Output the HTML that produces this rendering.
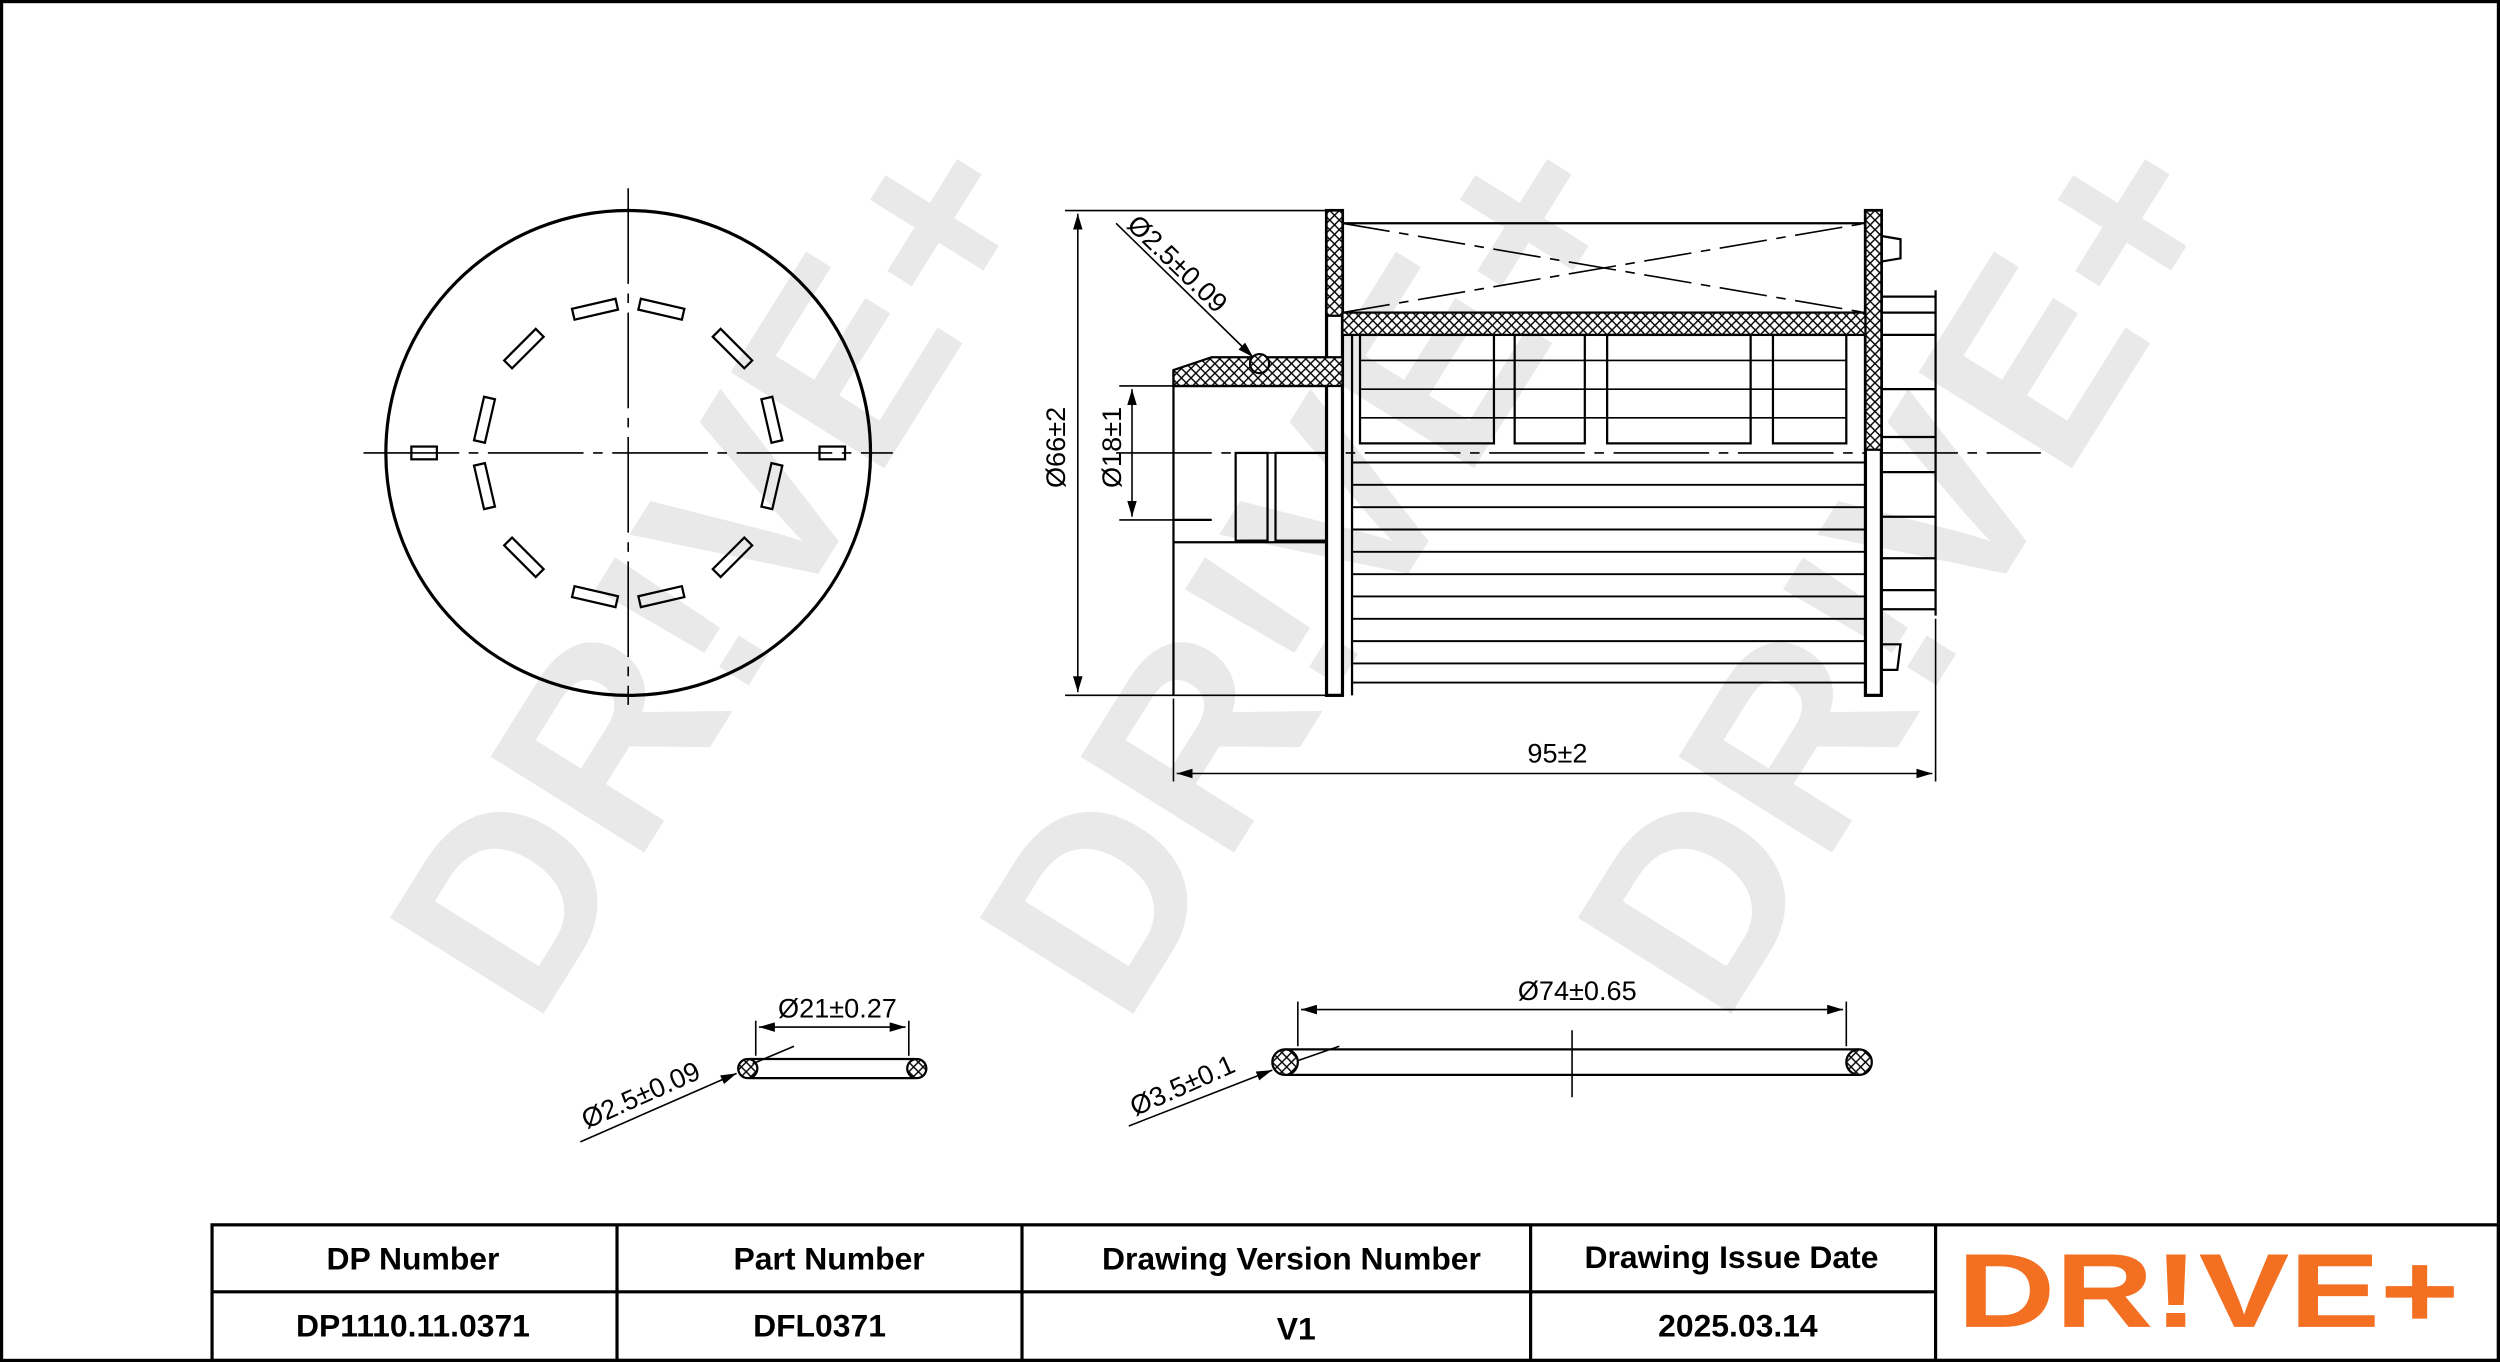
<!DOCTYPE html>
<html><head><meta charset="utf-8"><style>
html,body{margin:0;padding:0;background:#fff}
svg{display:block}
</style></head><body>
<svg width="2500" height="1362" viewBox="0 0 1568 854" preserveAspectRatio="none" xmlns="http://www.w3.org/2000/svg" font-family="Liberation Sans, sans-serif">
<defs>
<pattern id="h" width="6" height="6" patternUnits="userSpaceOnUse">
<rect width="6" height="6" fill="#fff"/>
<path d="M0 0L6 6M6 0L0 6" stroke="#000" stroke-width="0.9"/>
</pattern>
<marker id="a" markerWidth="10" markerHeight="6" refX="10" refY="3" orient="auto-start-reverse" markerUnits="userSpaceOnUse"><path d="M0 0L10 3L0 6Z" fill="#000"/></marker>
</defs>
<rect x="0" y="0" width="1568" height="854" fill="#fff"/>
<g fill="#e9e9e9" font-weight="bold" font-size="165">
<text transform="translate(335,645) rotate(-58)">DR!VE+</text>
<text transform="translate(705,645) rotate(-58)">DR!VE+</text>
<text transform="translate(1080,645) rotate(-58)">DR!VE+</text>
</g>
<rect x="1" y="1" width="1566" height="852" fill="none" stroke="#000" stroke-width="2"/>
<g stroke="#000" fill="none" stroke-width="1.4">
<circle cx="394" cy="284" r="152" stroke-width="2"/>
<line x1="228" y1="284" x2="560" y2="284" stroke-width="1" stroke-dasharray="60,6,6,6"/>
<line x1="394" y1="118" x2="394" y2="442" stroke-width="1" stroke-dasharray="60,6,6,6"/>
<rect x="258" y="280" width="16" height="8"/>
<rect x="514" y="280" width="16" height="8"/>
<g transform="translate(394,284)">
<rect x="-14" y="-96" width="28" height="7" transform="rotate(-13)"/>
<rect x="-14" y="-96" width="28" height="7" transform="rotate(13)"/>
<rect x="-14" y="-96" width="28" height="7" transform="rotate(45)"/>
<rect x="-14" y="-96" width="28" height="7" transform="rotate(77)"/>
<rect x="-14" y="-96" width="28" height="7" transform="rotate(103)"/>
<rect x="-14" y="-96" width="28" height="7" transform="rotate(135)"/>
<rect x="-14" y="-96" width="28" height="7" transform="rotate(167)"/>
<rect x="-14" y="-96" width="28" height="7" transform="rotate(193)"/>
<rect x="-14" y="-96" width="28" height="7" transform="rotate(225)"/>
<rect x="-14" y="-96" width="28" height="7" transform="rotate(257)"/>
<rect x="-14" y="-96" width="28" height="7" transform="rotate(283)"/>
<rect x="-14" y="-96" width="28" height="7" transform="rotate(315)"/>
</g>
</g>
<g stroke="#000" fill="none" stroke-width="1.4">
<line x1="700" y1="284" x2="1280" y2="284" stroke-width="1" stroke-dasharray="60,6,6,6"/>
<rect x="832" y="132" width="10" height="304" fill="#fff" stroke-width="2"/>
<rect x="832" y="132" width="10" height="66" fill="url(#h)"/>
<rect x="1170" y="132" width="10" height="304" fill="#fff" stroke-width="2"/>
<rect x="1170" y="132" width="10" height="150" fill="url(#h)"/>
<line x1="842" y1="140" x2="1170" y2="140"/>
<line x1="842" y1="196" x2="1170" y2="196"/>
<line x1="842" y1="140" x2="1170" y2="196" stroke-width="1" stroke-dasharray="30,6,6,6"/>
<line x1="842" y1="196" x2="1170" y2="140" stroke-width="1" stroke-dasharray="30,6,6,6"/>
<rect x="842" y="196" width="328" height="14" fill="url(#h)"/>
<path d="M736 232 L760 224 L832 224 L842 224 L842 242 L736 242 Z" fill="url(#h)"/>
<circle cx="790" cy="228" r="6" fill="url(#h)"/>
<line x1="736" y1="232" x2="736" y2="436"/>
<line x1="736" y1="242" x2="832" y2="242"/>
<line x1="736" y1="326" x2="760" y2="326"/>
<rect x="775" y="284" width="20" height="55"/>
<rect x="800" y="284" width="32" height="55"/>
<line x1="736" y1="340" x2="832" y2="340"/>
<rect x="853" y="210" width="84" height="68"/>
<rect x="950" y="210" width="44" height="68"/>
<rect x="1008" y="210" width="90" height="68"/>
<rect x="1112" y="210" width="46" height="68"/>
<line x1="853" y1="226" x2="1158" y2="226" stroke-width="1"/>
<line x1="853" y1="244" x2="1158" y2="244" stroke-width="1"/>
<line x1="853" y1="262" x2="1158" y2="262" stroke-width="1"/>
<line x1="848" y1="210" x2="848" y2="436"/>
<g stroke-width="1.2">
<line x1="848" y1="290" x2="1170" y2="290"/>
<line x1="848" y1="304" x2="1170" y2="304"/>
<line x1="848" y1="318" x2="1170" y2="318"/>
<line x1="848" y1="332" x2="1170" y2="332"/>
<line x1="848" y1="346" x2="1170" y2="346"/>
<line x1="848" y1="360" x2="1170" y2="360"/>
<line x1="848" y1="374" x2="1170" y2="374"/>
<line x1="848" y1="388" x2="1170" y2="388"/>
<line x1="848" y1="402" x2="1170" y2="402"/>
<line x1="848" y1="416" x2="1170" y2="416"/>
<line x1="848" y1="428" x2="1170" y2="428"/>
</g>
<path d="M1180 148 L1192 150 L1192 162 L1180 164"/>
<line x1="1180" y1="186" x2="1214" y2="186"/>
<line x1="1180" y1="196" x2="1214" y2="196"/>
<line x1="1180" y1="210" x2="1214" y2="210"/>
<line x1="1180" y1="244" x2="1214" y2="244"/>
<line x1="1180" y1="274" x2="1214" y2="274"/>
<line x1="1214" y1="182" x2="1214" y2="386"/>
<line x1="1180" y1="296" x2="1214" y2="296"/>
<line x1="1180" y1="324" x2="1214" y2="324"/>
<line x1="1180" y1="350" x2="1214" y2="350"/>
<line x1="1180" y1="370" x2="1214" y2="370"/>
<line x1="1180" y1="382" x2="1214" y2="382"/>
<path d="M1180 404 L1192 404 L1190 420 L1180 420"/>
</g>
<g stroke="#000" stroke-width="1" fill="none">
<line x1="668" y1="132" x2="832" y2="132"/>
<line x1="668" y1="436" x2="832" y2="436"/>
<line x1="676" y1="134" x2="676" y2="434" marker-start="url(#a)" marker-end="url(#a)"/>
<line x1="702" y1="242" x2="736" y2="242"/>
<line x1="702" y1="326" x2="736" y2="326"/>
<line x1="710" y1="244" x2="710" y2="324" marker-start="url(#a)" marker-end="url(#a)"/>
<line x1="700" y1="140" x2="786" y2="224" marker-end="url(#a)"/>
<line x1="736" y1="438" x2="736" y2="490"/>
<line x1="1214" y1="388" x2="1214" y2="490"/>
<line x1="738" y1="485" x2="1212" y2="485" marker-start="url(#a)" marker-end="url(#a)"/>
</g>
<g font-size="17" fill="#000">
<text transform="translate(668,306) rotate(-90)">Ø66±2</text>
<text transform="translate(703,306) rotate(-90)">Ø18±1</text>
<text transform="translate(706,142) rotate(44)">Ø2.5±0.09</text>
<text x="958" y="478">95±2</text>
<text x="488" y="638">Ø21±0.27</text>
<text transform="translate(368,708) rotate(-24)">Ø2.5±0.09</text>
<text x="952" y="627">Ø74±0.65</text>
<text transform="translate(712,700) rotate(-24)">Ø3.5±0.1</text>
</g>
<g stroke="#000" stroke-width="1.4" fill="none">
<line x1="470" y1="664" x2="574" y2="664"/>
<line x1="470" y1="676" x2="574" y2="676"/>
<circle cx="469" cy="670" r="6" fill="url(#h)"/>
<circle cx="575" cy="670" r="6" fill="url(#h)"/>
<line x1="474" y1="640" x2="474" y2="662" stroke-width="1"/>
<line x1="570" y1="640" x2="570" y2="662" stroke-width="1"/>
<line x1="476" y1="644" x2="568" y2="644" stroke-width="1" marker-start="url(#a)" marker-end="url(#a)"/>
<line x1="364" y1="716" x2="462" y2="673" stroke-width="1" marker-end="url(#a)"/>
<line x1="498" y1="656" x2="472" y2="667" stroke-width="1"/>
<line x1="806" y1="658" x2="1166" y2="658"/>
<line x1="806" y1="674" x2="1166" y2="674"/>
<circle cx="806" cy="666" r="8" fill="url(#h)"/>
<circle cx="1166" cy="666" r="8" fill="url(#h)"/>
<line x1="986" y1="646" x2="986" y2="688" stroke-width="1"/>
<line x1="814" y1="628" x2="814" y2="656" stroke-width="1"/>
<line x1="1158" y1="628" x2="1158" y2="656" stroke-width="1"/>
<line x1="816" y1="633" x2="1156" y2="633" stroke-width="1" marker-start="url(#a)" marker-end="url(#a)"/>
<line x1="708" y1="706" x2="798" y2="671" stroke-width="1" marker-end="url(#a)"/>
<line x1="840" y1="656" x2="814" y2="665" stroke-width="1"/>
</g>
<g stroke="#000" stroke-width="2" fill="none">
<rect x="133" y="768" width="1434" height="85"/>
<line x1="133" y1="810" x2="1214" y2="810"/>
<line x1="387" y1="768" x2="387" y2="853"/>
<line x1="641" y1="768" x2="641" y2="853"/>
<line x1="960" y1="768" x2="960" y2="853"/>
<line x1="1214" y1="768" x2="1214" y2="853"/>
</g>
<g font-size="20" font-weight="bold" text-anchor="middle" fill="#000">
<text x="259" y="796">DP Number</text>
<text x="520" y="796">Part Number</text>
<text x="810" y="796">Drawing Version Number</text>
<text x="1086" y="795">Drawing Issue Date</text>
<text x="259" y="838">DP1110.11.0371</text>
<text x="514" y="838">DFL0371</text>
<text x="813" y="840">V1</text>
<text x="1090" y="838">2025.03.14</text>
</g>
<text x="1385" y="832" text-anchor="middle" font-size="66" font-weight="bold" fill="#f36f21" textLength="315" lengthAdjust="spacingAndGlyphs">DR!VE+</text>
</svg>
</body></html>
